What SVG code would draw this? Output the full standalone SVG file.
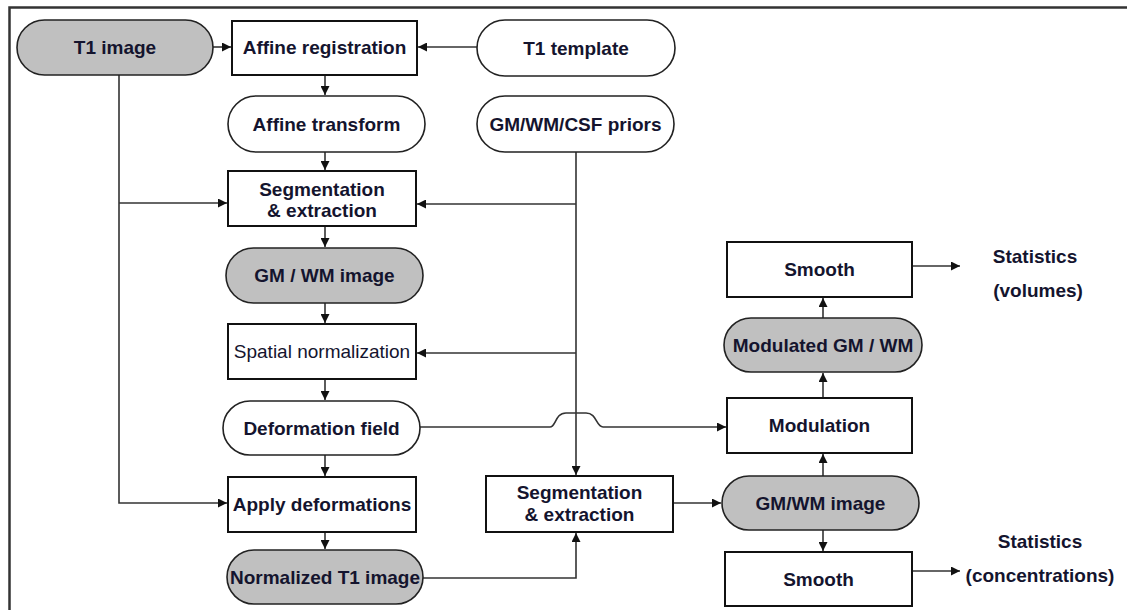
<svg xmlns="http://www.w3.org/2000/svg" width="1127" height="610" viewBox="0 0 1127 610">
<style>
.box{fill:#fff;stroke:#111;stroke-width:2}
.pill{fill:#fff;stroke:#222;stroke-width:1.6}
.grey{fill:#c0c0c0}
.t{font-family:"Liberation Sans",Arial,sans-serif;font-size:19px;font-weight:bold;fill:#14142e;text-anchor:middle}
.n{font-weight:normal}
.c{fill:none;stroke:#333;stroke-width:1.6}
</style>
<defs>
<marker id="ah" viewBox="0 0 10 10" refX="10" refY="5" markerWidth="9" markerHeight="9" markerUnits="userSpaceOnUse" orient="auto">
<path d="M0,0 L10,5 L0,10 z" fill="#111"/>
</marker>
</defs>
<rect x="0" y="0" width="1127" height="610" fill="#fff"/>
<path d="M9.5,620 V7.5 H1140" fill="none" stroke="#333" stroke-width="2.5"/>

<g id="connectors">
<path class="c" d="M213,47 H231" marker-end="url(#ah)"/>
<path class="c" d="M477,47 H418" marker-end="url(#ah)"/>
<path class="c" d="M325,75 V95" marker-end="url(#ah)"/>
<path class="c" d="M325,152 V170" marker-end="url(#ah)"/>
<path class="c" d="M119,75 V503 H227" marker-end="url(#ah)"/>
<path class="c" d="M119,203 H227" marker-end="url(#ah)"/>
<path class="c" d="M576,152 V475" marker-end="url(#ah)"/>
<path class="c" d="M576,204 H417" marker-end="url(#ah)"/>
<path class="c" d="M576,353 H417" marker-end="url(#ah)"/>
<path class="c" d="M325,226 V247" marker-end="url(#ah)"/>
<path class="c" d="M325,303 V323" marker-end="url(#ah)"/>
<path class="c" d="M325,379 V400" marker-end="url(#ah)"/>
<path class="c" d="M325,455 V476" marker-end="url(#ah)"/>
<path class="c" d="M325,532 V549" marker-end="url(#ah)"/>
<path class="c" d="M420,427 H550 C556,427 555,413 566,413 H586 C597,413 596,427 603,427 H726" marker-end="url(#ah)"/>
<path class="c" d="M423,578 H576 V533" marker-end="url(#ah)"/>
<path class="c" d="M673,503 H721" marker-end="url(#ah)"/>
<path class="c" d="M823,476 V454" marker-end="url(#ah)"/>
<path class="c" d="M823,530 V551" marker-end="url(#ah)"/>
<path class="c" d="M823,398 V373" marker-end="url(#ah)"/>
<path class="c" d="M823,318 V298" marker-end="url(#ah)"/>
<path class="c" d="M912,266 H960" marker-end="url(#ah)"/>
<path class="c" d="M912,571 H960" marker-end="url(#ah)"/>
</g>

<g id="t1-image"><rect class="pill grey" x="17" y="20" width="196" height="55" rx="27.5"/><text class="t" x="115" y="54">T1 image</text></g>
<g id="affine-registration"><rect class="box" x="232" y="21" width="185" height="54"/><text class="t" x="324.5" y="54">Affine registration</text></g>
<g id="t1-template"><rect class="pill" x="477" y="20" width="198" height="56" rx="28"/><text class="t" x="576" y="55">T1 template</text></g>
<g id="affine-transform"><rect class="pill" x="228" y="96" width="197" height="56" rx="28"/><text class="t" x="326.5" y="131">Affine transform</text></g>
<g id="priors"><rect class="pill" x="477" y="96" width="197" height="56" rx="28"/><text class="t" x="575.5" y="131">GM/WM/CSF priors</text></g>
<g id="segmentation1"><rect class="box" x="228" y="171" width="188" height="55"/><text class="t" x="322" y="196">Segmentation</text><text class="t" x="322" y="217">&amp; extraction</text></g>
<g id="gmwm-image1"><rect class="pill grey" x="226" y="248" width="197" height="55" rx="27.5"/><text class="t" x="324.5" y="282">GM / WM image</text></g>
<g id="spatial-normalization"><rect class="box" x="228" y="324" width="188" height="55"/><text class="t n" x="322" y="358">Spatial normalization</text></g>
<g id="deformation-field"><rect class="pill" x="223" y="401" width="197" height="54" rx="27"/><text class="t" x="321.5" y="435">Deformation field</text></g>
<g id="apply-deformations"><rect class="box" x="228" y="477" width="188" height="55"/><text class="t" x="322" y="511">Apply deformations</text></g>
<g id="normalized-t1"><rect class="pill grey" x="227" y="550" width="196" height="54" rx="27"/><text class="t" x="325" y="584">Normalized T1 image</text></g>
<g id="segmentation2"><rect class="box" x="486" y="476" width="187" height="56"/><text class="t" x="579.5" y="499">Segmentation</text><text class="t" x="579.5" y="521">&amp; extraction</text></g>
<g id="gmwm-image2"><rect class="pill grey" x="722" y="476" width="197" height="54" rx="27"/><text class="t" x="820.5" y="510">GM/WM image</text></g>
<g id="modulation"><rect class="box" x="727" y="398" width="185" height="55"/><text class="t" x="819.5" y="432">Modulation</text></g>
<g id="modulated"><rect class="pill grey" x="724" y="318" width="198" height="54" rx="27"/><text class="t" x="823" y="352">Modulated GM / WM</text></g>
<g id="smooth1"><rect class="box" x="727" y="242" width="185" height="55"/><text class="t" x="819.5" y="276">Smooth</text></g>
<g id="smooth2"><rect class="box" x="725" y="552" width="187" height="54"/><text class="t" x="818.5" y="586">Smooth</text></g>
<g id="stats-volumes"><text class="t" x="1035" y="263">Statistics</text><text class="t" x="1038" y="297">(volumes)</text></g>
<g id="stats-concentrations"><text class="t" x="1040" y="548">Statistics</text><text class="t" x="1040" y="582">(concentrations)</text></g>
</svg>
